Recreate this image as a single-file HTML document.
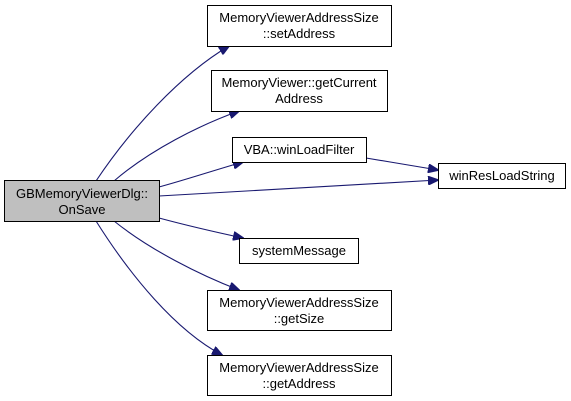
<!DOCTYPE html>
<html><head><style>body{margin:0;background:#fff}svg{display:block}text{font-family:"Liberation Sans",Arial,sans-serif;font-size:13px;text-anchor:middle;fill:#000}</style></head>
<body>
<svg width="571" height="401" viewBox="0 0 571 401" xmlns="http://www.w3.org/2000/svg">
<defs><marker id="a" markerWidth="11" markerHeight="9" refX="10" refY="4.5" orient="auto" markerUnits="userSpaceOnUse"><path d="M0,0 L11,4.5 L0,9 z" fill="#191970" stroke="#191970"/></marker></defs>
<g fill="none" stroke="#191970" stroke-width="1.1">
<path d="M96,181 C130,130 180,75 229,46" marker-end="url(#a)"/>
<path d="M114,181 C150,150 200,125 239,111" marker-end="url(#a)"/>
<path d="M159,187 C185,180 215,170 243,162" marker-end="url(#a)"/>
<path d="M366,158 C390,162 415,166 438,170" marker-end="url(#a)"/>
<path d="M159,196 C260,191 360,185 438,180" marker-end="url(#a)"/>
<path d="M159,218 C185,225 215,232 243,238" marker-end="url(#a)"/>
<path d="M114,221 C150,250 200,275 239,290" marker-end="url(#a)"/>
<path d="M96,221 C130,275 175,330 222,355" marker-end="url(#a)"/>
</g>
<g stroke="#000" stroke-width="1">
<rect x="4.5" y="180.5" width="155" height="41" fill="#bfbfbf"/>
<rect x="207.5" y="5.5" width="184" height="41" fill="#fff"/>
<rect x="211.5" y="70.5" width="176" height="41" fill="#fff"/>
<rect x="232.5" y="137.5" width="134" height="25" fill="#fff"/>
<rect x="438.5" y="163.5" width="127" height="25" fill="#fff"/>
<rect x="239.5" y="238.5" width="119" height="25" fill="#fff"/>
<rect x="207.5" y="290.5" width="184" height="40" fill="#fff"/>
<rect x="207.5" y="355.5" width="184" height="40" fill="#fff"/>
</g>
<text x="82" y="198">GBMemoryViewerDlg::</text><text x="82" y="214">OnSave</text>
<text x="299" y="22">MemoryViewerAddressSize</text><text x="299" y="38">::setAddress</text>
<text x="299" y="87">MemoryViewer::getCurrent</text><text x="299" y="103">Address</text>
<text x="299" y="154">VBA::winLoadFilter</text>
<text x="502" y="180">winResLoadString</text>
<text x="299" y="255">systemMessage</text>
<text x="299" y="307">MemoryViewerAddressSize</text><text x="299" y="323">::getSize</text>
<text x="299" y="372">MemoryViewerAddressSize</text><text x="299" y="388">::getAddress</text>
</svg>
</body></html>
